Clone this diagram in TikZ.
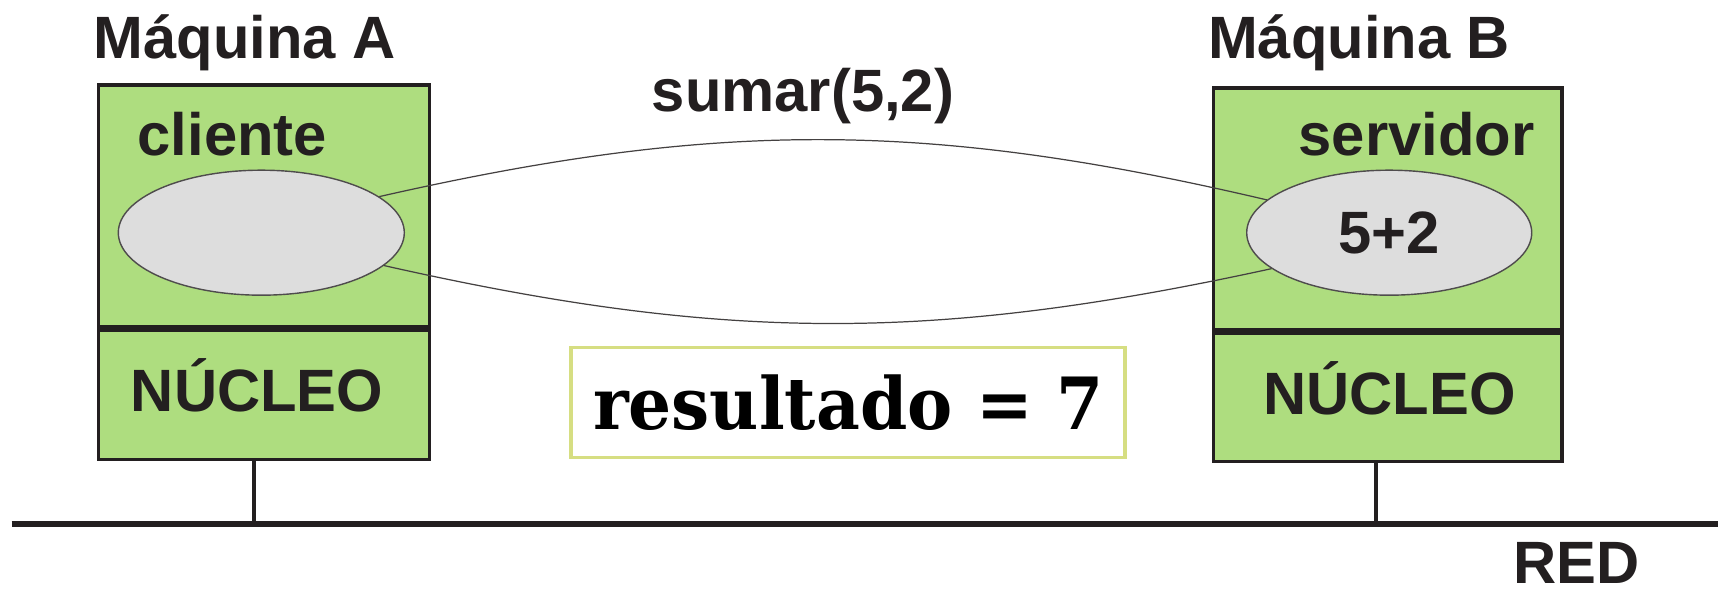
\documentclass[tikz,border=0pt]{standalone}
\usepackage{fontspec}
\setmainfont{Liberation Sans}
\newfontfamily\slabfont{DejaVu Serif}
\usepackage{tikz}
\usetikzlibrary{positioning,shapes.geometric,calc}
\definecolor{ink}{RGB}{35,31,32}
\definecolor{machgreen}{RGB}{174,221,127}
\definecolor{procgray}{RGB}{221,221,221}
\definecolor{resframe}{RGB}{214,222,130}
\newcommand{\bigsans}{\fontsize{17pt}{20pt}\selectfont\bfseries}
\newcommand{\slabbig}{\fontsize{20.5pt}{24pt}\selectfont\slabfont\bfseries}
\tikzset{
  mach/part/.style={draw=ink, line width=1pt, fill=machgreen, inner sep=0pt, anchor=north west},
  mach/proc/.style={draw=ink!80, line width=0.4pt, ellipse, fill=procgray, inner sep=0pt,
    minimum width=28.6mm, minimum height=12.5mm, font=\bigsans, text=ink},
  mach/label/.style={inner sep=0pt, font=\bigsans, text=ink},
  net/bus/.style={draw=ink, line width=1.7pt},
  net/tap/.style={draw=ink, line width=1.15pt},
  call/.style={draw=ink!85, line width=0.35pt},
  res/box/.style={draw=resframe, line width=0.9pt, minimum width=55.4mm, minimum height=11.04mm, inner sep=0pt},
  res/text/.style={inner sep=0pt, font=\slabbig, text=black}
}

\begin{document}
\begin{tikzpicture}[x=1cm,y=1cm]
\useasboundingbox (0,0) rectangle (17.21,5.90);

% Machine A
\node[mach/part, minimum width=33.1mm, minimum height=24.15mm] (cliA) at (0.965,5.065) {};
\node[mach/part, minimum width=33.1mm, minimum height=12.9mm] (nucA) at (cliA.south west) {};
\node[mach/label, anchor=base west] (maqA) at (0.93,5.317) {Máquina A};
\node[mach/label, anchor=base west] (cliTxt) at (1.37,4.343) {cliente};
\node[mach/proc] (procA) at (2.613,3.573) {};
\node[mach/label, anchor=base] (kerA) at (2.57,1.783) {NÚCLEO};

% Machine B
\node[mach/part, minimum width=34.83mm, minimum height=24.17mm] (cliB) at (12.117,5.037) {};
\node[mach/part, minimum width=34.83mm, minimum height=12.8mm] (nucB) at (cliB.south west) {};
\node[mach/label, anchor=base west] (maqB) at (12.073,5.317) {Máquina B};
\node[mach/label, anchor=base west] (srvTxt) at (12.98,4.343) {servidor};
\node[mach/proc, minimum width=28.5mm] (procB) at (13.892,3.573) {5+2};
\node[mach/label, anchor=base] (kerB) at (13.895,1.757) {NÚCLEO};

% Call and reply
\draw[call] (procA.17) to[bend left=13] (procB.165);
\draw[call] (procA.-15.5) to[bend right=12.5] (procB.197);
\node[mach/label, anchor=base] (sumar) at (8.03,4.783) {sumar(5,2)};

% Result
\node[res/box] (res) at (8.48,1.875) {};
\node[res/text, anchor=base] (resTxt) at (8.483,1.607) {\scalebox{0.94}[1]{resultado = 7}};

% Network
\coordinate (busL) at (0.117,0.657);
\coordinate (busR) at (17.18,0.657);
\coordinate (tapA) at (2.543,0.657);
\coordinate (tapB) at (13.76,0.657);
\draw[net/bus] (busL) -- (busR);
\draw[net/tap] (tapA |- nucA.south) -- (tapA);
\draw[net/tap] (tapB |- nucB.south) -- (tapB);
\node[mach/label, anchor=base] (red) at (15.767,0.06) {RED};
\end{tikzpicture}
\end{document}
